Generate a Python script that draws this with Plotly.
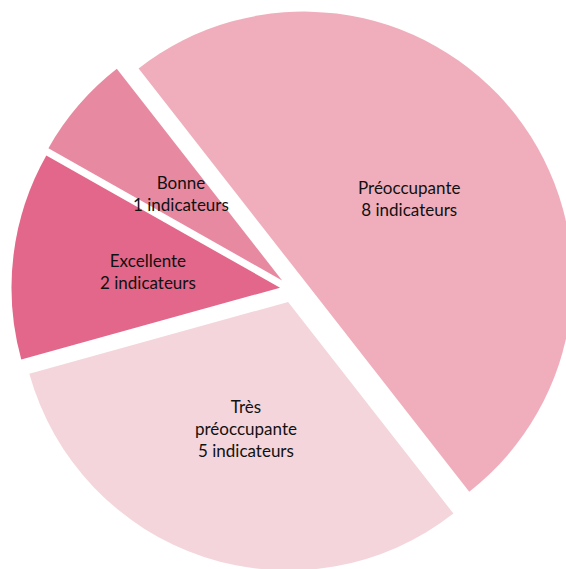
import math
import plotly.graph_objects as go

categories = ["Préoccupante", "Très<br>préoccupante", "Excellente", "Bonne"]
values = [8, 5, 2, 1]
counts_text = ["8 indicateurs", "5 indicateurs", "2 indicateurs", "1 indicateurs"]
colors = ["#F0AEBC", "#F4D5DB", "#E2678A", "#E78AA1"]
pulls = [0.055, 0.05, 0.046, 0.05]

labels = [f"{c}<br>{t}" for c, t in zip(categories, counts_text)]

W, H = 580, 576
ROT = -38
LABEL_FRAC = 0.495
dom_x = [9 / W, 575.6 / W]
dom_y = [1 - 572.5 / H, 1 - 5.9 / H]

fig = go.Figure(go.Pie(
    labels=categories,
    values=values,
    textinfo="none",
    sort=False,
    direction="clockwise",
    rotation=ROT,
    pull=pulls,
    marker=dict(colors=colors, line=dict(width=0)),
    domain=dict(x=dom_x, y=dom_y),
    showlegend=False,
    hoverinfo="label+value",
))

# label positions derived from the pie geometry (same as plotly's layout of the pie)
box_w = (dom_x[1] - dom_x[0]) * W
box_h = (dom_y[1] - dom_y[0]) * H
r = min(box_w, box_h) / (2 + 2 * max(pulls))
cx = W * (dom_x[0] + dom_x[1]) / 2
cy = H * (1 - dom_y[0]) - box_h / 2
total = sum(values)
start = ROT
for lab, v, p in zip(labels, values, pulls):
    span = 360 * v / total
    mid = math.radians(start + span / 2)
    d = (p + LABEL_FRAC) * r
    px = cx + d * math.sin(mid)
    py = cy - d * math.cos(mid)
    fig.add_annotation(
        x=px / W, y=1 - py / H, xref="paper", yref="paper",
        text=lab, showarrow=False, xanchor="center", yanchor="middle",
        font=dict(family="Lato, Open Sans, sans-serif", size=17, color="#111111"),
        align="center",
    )
    start += span

fig.update_layout(
    width=W, height=H,
    margin=dict(l=0, r=0, t=0, b=0),
    paper_bgcolor="white",
    plot_bgcolor="white",
)
fig.write_html(
    "out.html",
    config={"displayModeBar": False},
    post_script="document.body.style.margin='0';document.body.style.overflow='hidden';document.documentElement.style.overflow='hidden';",
)
